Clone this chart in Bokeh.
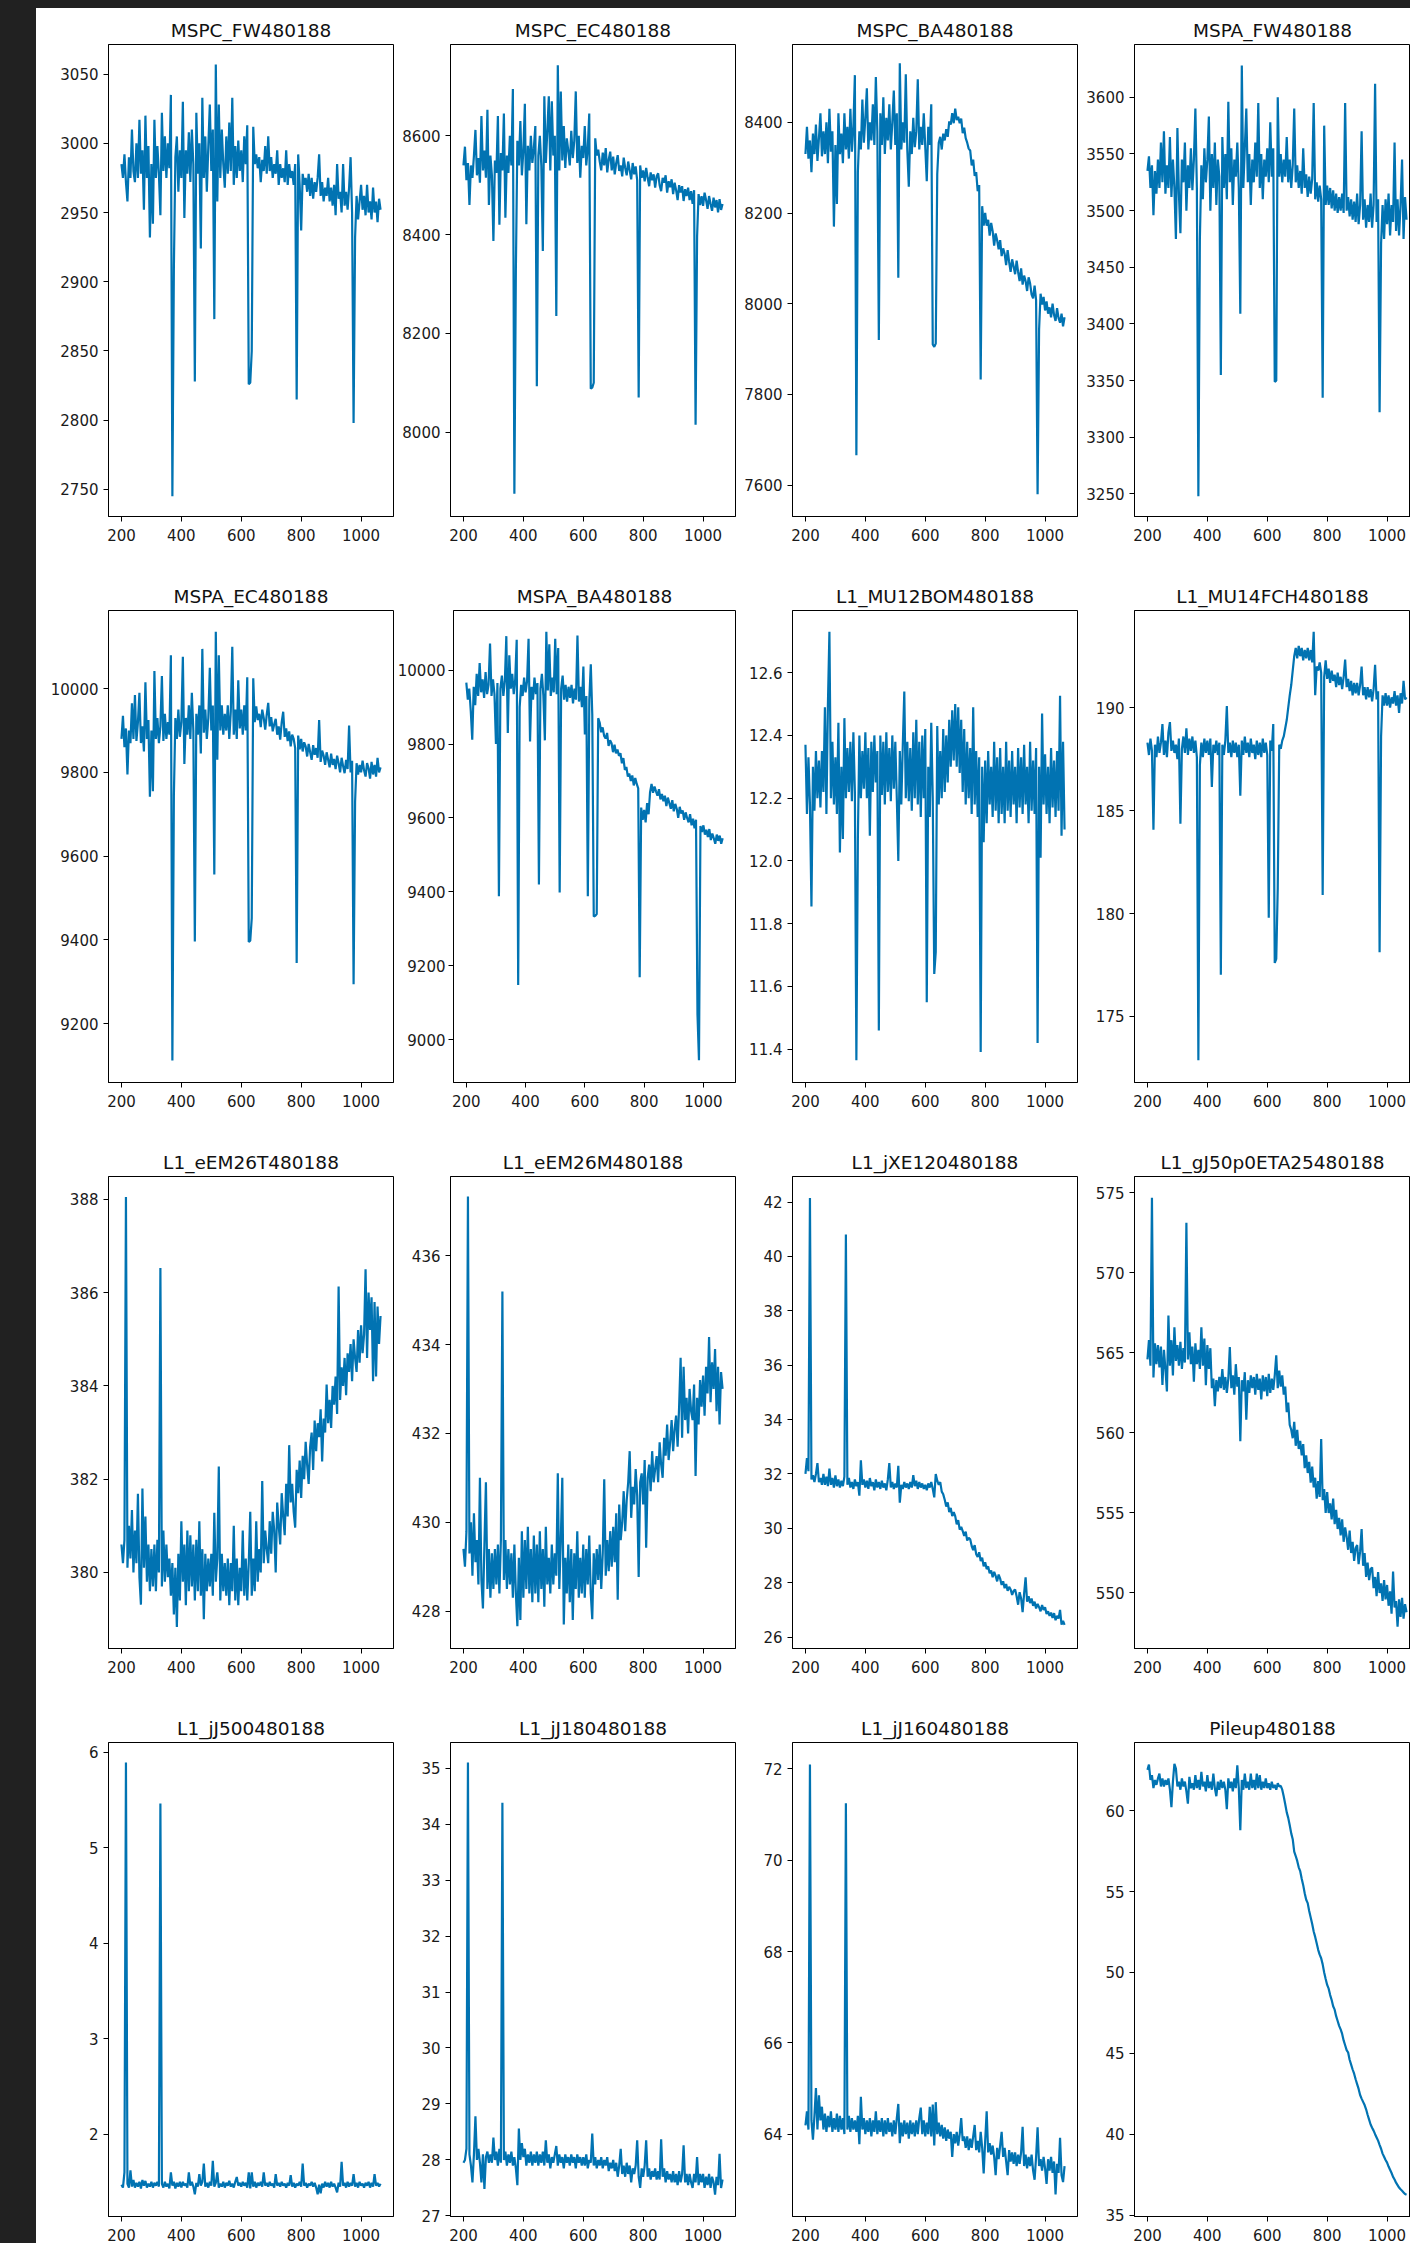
import sys
from bokeh.plotting import figure
from bokeh.layouts import row, column
from bokeh.models import Range1d, FixedTicker, Div, PrintfTickFormatter
from bokeh.embed import file_html
from bokeh.resources import INLINE

# sample positions (x axis, shared by all panels)
X = list(range(200, 1066, 5))

mspc_fw = [
 2985, 2975, 2992, 2972, 2958, 2990, 2975, 3010, 2980, 2972,
 3000, 2975, 3017, 2978, 2995, 2952, 3020, 2975, 2998, 2932,
 2985, 2942, 3017, 2975, 2998, 2978, 2948, 3022, 2980, 3005,
 2975, 3000, 2982, 3035, 2745, 2910, 2990, 3005, 2965, 2995,
 2975, 3030, 2946, 2995, 2978, 3008, 2972, 3010, 2985, 2828,
 3022, 2978, 3000, 2924, 3033, 2975, 3005, 2965, 2998, 3028,
 2980, 3010, 2873, 3057, 2958, 3028, 2975, 3010, 2985, 2968,
 3005, 2978, 3015, 2980, 3033, 2970, 2998, 2975, 3002, 2980,
 2995, 2972, 3005, 2985, 3013, 2826, 2827, 2850, 3012, 2985,
 2992, 2982, 2990, 2972, 2988, 2980, 2998, 2978, 3005, 2980,
 2990, 2975, 2985, 2978, 2995, 2970, 2985, 2975, 2982, 2972,
 2995, 2970, 2985, 2975, 2980, 2970, 2985, 2815, 2992, 2970,
 2937, 2978, 2970, 2975, 2965, 2978, 2962, 2975, 2960, 2972,
 2965, 2975, 2992, 2962, 2972, 2958, 2968, 2962, 2975, 2958,
 2968, 2955, 2970, 2948, 2985, 2960, 2965, 2950, 2985, 2955,
 2965, 2952, 2968, 2990, 2950, 2798, 2932, 2962, 2945, 2958,
 2970, 2952, 2962, 2948, 2970, 2950, 2958, 2945, 2968, 2950,
 2958, 2943, 2960, 2952]

mspc_ec = [
 8540, 8578, 8510, 8545, 8460, 8540, 8515, 8560, 8612, 8520,
 8555, 8505, 8640, 8530, 8570, 8515, 8653, 8460, 8560, 8520,
 8387, 8550, 8525, 8640, 8420, 8565, 8530, 8645, 8434, 8560,
 8525, 8600, 8540, 8695, 7875, 8330, 8590, 8540, 8630, 8520,
 8570, 8665, 8421, 8580, 8530, 8600, 8545, 8575, 8620, 8093,
 8560, 8600, 8540, 8367, 8680, 8545, 8610, 8680, 8530, 8670,
 8560, 8600, 8235, 8743, 8530, 8690, 8550, 8620, 8535, 8595,
 8570, 8540, 8610, 8555, 8590, 8690, 8545, 8600, 8515, 8580,
 8555, 8620, 8540, 8575, 8645, 8088, 8090, 8100, 8595, 8560,
 8572, 8548, 8530, 8566, 8540, 8575, 8526, 8552, 8568, 8530,
 8558, 8522, 8545, 8561, 8529, 8540, 8518, 8556, 8535, 8520,
 8548, 8530, 8512, 8545, 8522, 8538, 8510, 8070, 8540, 8515,
 8530, 8508, 8535, 8515, 8498, 8526, 8510, 8522, 8495, 8518,
 8524, 8500, 8488, 8515, 8505, 8520, 8485, 8508, 8496, 8512,
 8482, 8505, 8490, 8470, 8500, 8485, 8498, 8468, 8492, 8478,
 8495, 8470, 8488, 8462, 8490, 8015, 8396, 8482, 8460, 8478,
 8458, 8485, 8470, 8452, 8478, 8462, 8448, 8475, 8455, 8470,
 8445, 8472, 8450, 8462]

mspc_ba = [
 8330, 8390, 8320, 8360, 8290, 8375, 8330, 8395, 8315, 8365,
 8420, 8325, 8380, 8330, 8400, 8310, 8430, 8335, 8380, 8170,
 8350, 8220, 8420, 8330, 8375, 8310, 8420, 8340, 8390, 8320,
 8430, 8335, 8390, 8504, 7666, 8290, 8380, 8340, 8450, 8355,
 8410, 8475, 8340, 8400, 8360, 8440, 8350, 8500, 8380, 7920,
 8420, 8350, 8455, 8330, 8410, 8360, 8440, 8340, 8400, 8470,
 8350, 8420, 8057, 8530, 8340, 8400, 8355, 8506, 8340, 8258,
 8380, 8330, 8410, 8345, 8380, 8495, 8340, 8390, 8350, 8420,
 8345, 8270, 8390, 8350, 8440, 7910, 7905, 7912, 8286, 8355,
 8368, 8340, 8375, 8360, 8385, 8368, 8402, 8395, 8420, 8398,
 8430, 8405, 8412, 8398, 8408, 8376, 8388, 8365, 8355, 8342,
 8338, 8305, 8318, 8282, 8290, 8248, 8262, 7833, 8215, 8172,
 8200, 8172, 8185, 8150, 8178, 8160, 8128, 8155, 8140, 8120,
 8140, 8105, 8122, 8110, 8085, 8118, 8092, 8070, 8098, 8082,
 8065, 8095, 8070, 8050, 8078, 8042, 8062, 8050, 8028, 8058,
 8045, 8020, 8012, 8040, 8008, 7580, 7943, 8022, 7998, 8015,
 7985, 8005, 7978, 7992, 7970, 8000, 7975, 7962, 7990, 7968,
 7958, 7978, 7950, 7970]

mspa_fw = [
 3535, 3548, 3520, 3540, 3496, 3535, 3515, 3545, 3520, 3560,
 3525, 3570, 3515, 3540, 3520, 3565, 3512, 3545, 3520, 3475,
 3573, 3515, 3480, 3545, 3525, 3560, 3500, 3540, 3520, 3555,
 3518, 3545, 3590, 3520, 3248, 3475, 3540, 3510, 3555, 3525,
 3545, 3583, 3500, 3550, 3520, 3560, 3505, 3545, 3530, 3355,
 3565, 3520, 3550, 3510, 3596, 3525, 3555, 3505, 3545, 3530,
 3560, 3520, 3409, 3628, 3520, 3555, 3590, 3525, 3550, 3505,
 3545, 3525, 3560, 3530, 3595, 3520, 3550, 3510, 3545, 3530,
 3555, 3525, 3578, 3530, 3555, 3349, 3350, 3600, 3530, 3550,
 3525, 3545, 3530, 3565, 3525, 3545, 3520, 3540, 3590, 3525,
 3540, 3520, 3535, 3515, 3555, 3520, 3532, 3512, 3530, 3515,
 3528, 3595, 3510, 3525, 3508, 3522, 3510, 3335, 3575, 3505,
 3522, 3505, 3520, 3502, 3518, 3500, 3515, 3498, 3512, 3500,
 3515, 3498, 3595, 3500, 3512, 3495, 3510, 3492, 3508, 3490,
 3515, 3488, 3505, 3570, 3492, 3510, 3485, 3505, 3490, 3515,
 3485, 3505, 3612, 3490, 3510, 3322, 3471, 3505, 3475, 3510,
 3488, 3515, 3478, 3505, 3490, 3560, 3482, 3510, 3478, 3505,
 3545, 3475, 3512, 3492]

mspa_ec = [
 9880, 9935, 9860, 9905, 9795, 9900, 9870, 9965, 9880, 9985,
 9875, 9920, 9990, 9870, 9910, 9850, 10015, 9880, 9925, 9742,
 9900, 9755, 10042, 9880, 9930, 9870, 9910, 10030, 9875, 9940,
 9880, 9920, 9890, 10080, 9112, 9745, 9930, 9880, 9950, 9885,
 9920, 10076, 9820, 9930, 9890, 9960, 9880, 9990, 9900, 9396,
 9940, 9890, 9960, 9845, 10095, 9895, 9950, 9880, 9930, 10050,
 9900, 9960, 9556, 10136, 9830, 10080, 9900, 9960, 9890, 9940,
 9900, 9960, 9880, 9945, 10100, 9890, 9950, 9880, 10020, 9905,
 9950, 9890, 9960, 9900, 10027, 9395, 9398, 9452, 10025, 9920,
 9958, 9925, 9940, 9908, 9950, 9930, 9902, 9938, 9966, 9910,
 9932, 9898, 9915, 9928, 9890, 9910, 9878, 9920, 9945, 9885,
 9905, 9875, 9898, 9862, 9890, 9880, 9858, 9345, 9888, 9855,
 9880, 9850, 9872, 9862, 9838, 9868, 9848, 9830, 9865, 9842,
 9858, 9835, 9925, 9825, 9852, 9840, 9818, 9848, 9830, 9812,
 9845, 9818, 9832, 9808, 9840, 9822, 9800, 9835, 9815, 9798,
 9830, 9808, 9912, 9800, 9828, 9294, 9730, 9822, 9795, 9818,
 9800, 9828, 9805, 9790, 9822, 9810, 9785, 9825, 9795, 9818,
 9790, 9835, 9800, 9812]

mspa_ba = [
 9966, 9920, 9950, 9890, 9812, 9955, 9905, 9990, 9930, 10019,
 9940, 9975, 9925, 9995, 9935, 9960, 10072, 9930, 9975, 9935,
 9800, 9965, 9388, 9950, 9985, 9930, 9970, 10092, 9830, 10040,
 9950, 9990, 9935, 9975, 10082, 9148, 9900, 9960, 9930, 9980,
 9940, 9970, 10085, 9807, 9955, 9920, 9980, 9935, 9965, 9420,
 9950, 9990, 9930, 9810, 10104, 9945, 10070, 9930, 9980, 9940,
 10085, 9935, 10060, 9398, 9950, 9985, 9920, 9960, 9915, 9955,
 9925, 9960, 9910, 9950, 9920, 10094, 9915, 9955, 9900, 10010,
 9826, 9930, 9388, 9920, 10016, 9880, 9333, 9335, 9340, 9870,
 9858, 9832, 9845, 9822, 9815, 9830, 9795, 9810, 9802, 9778,
 9798, 9775, 9785, 9768, 9775, 9748, 9762, 9730, 9738, 9712,
 9720, 9700, 9715, 9688, 9708, 9692, 9680, 9169, 9628, 9595,
 9622, 9588, 9640, 9610, 9670, 9692, 9668, 9685, 9672, 9660,
 9678, 9650, 9665, 9645, 9660, 9632, 9655, 9640, 9625, 9648,
 9618, 9638, 9625, 9600, 9630, 9612, 9620, 9595, 9615, 9600,
 9588, 9610, 9580, 9598, 9572, 9595, 9068, 8944, 9578, 9562,
 9580, 9555, 9568, 9548, 9570, 9540, 9558, 9545, 9530, 9555,
 9538, 9552, 9530, 9545]

l1_mu12bom = [
 12.37, 12.15, 12.33, 12.18, 11.855, 12.30, 12.16, 12.35, 12.20, 12.32,
 12.17, 12.35, 12.22, 12.49, 12.15, 12.50, 12.73, 12.20, 12.38, 12.18,
 12.33, 12.15, 12.44, 12.027, 12.30, 12.07, 12.455, 12.20, 12.36, 12.22,
 12.38, 12.19, 12.41, 12.22, 11.365, 12.07, 12.40, 12.20, 12.35, 12.23,
 12.41, 12.20, 12.36, 12.08, 12.38, 12.22, 12.40, 12.25, 12.35, 11.46,
 12.40, 12.21, 12.38, 12.18, 12.41, 12.22, 12.36, 12.19, 12.40, 12.23,
 12.38, 12.20, 12.00, 12.35, 12.18, 12.37, 12.54, 12.20, 12.38, 12.19,
 12.36, 12.16, 12.41, 12.20, 12.45, 12.18, 12.38, 12.14, 12.40, 12.20,
 12.42, 11.55, 12.30, 12.14, 12.44, 12.20, 11.64, 11.71, 12.43, 12.18,
 12.35, 12.20, 12.42, 12.22, 12.40, 12.25, 12.45, 12.30, 12.48, 12.32,
 12.50, 12.30, 12.49, 12.28, 12.45, 12.22, 12.42, 12.18, 12.38, 12.20,
 12.36, 12.15, 12.49, 12.18, 12.35, 12.14, 12.33, 11.391, 12.30, 12.06,
 12.32, 12.12, 12.35, 12.18, 12.30, 12.14, 12.38, 12.16, 12.33, 12.12,
 12.36, 12.15, 12.30, 12.12, 12.38, 12.16, 12.32, 12.14, 12.35, 12.18,
 12.30, 12.12, 12.36, 12.17, 12.33, 12.15, 12.37, 12.18, 12.30, 12.12,
 12.38, 12.16, 12.32, 12.15, 12.36, 11.42, 12.30, 12.01, 12.47, 12.18,
 12.34, 12.15, 12.30, 12.12, 12.36, 12.17, 12.32, 12.14, 12.35, 12.16,
 12.526, 12.08, 12.38, 12.10]

l1_mu14fch = [
 188.3, 187.7, 188.5, 187.9, 184.07, 188.2, 187.6, 188.6, 187.8, 188.3,
 189.2, 187.7, 188.4, 187.6, 188.8, 189.3, 187.9, 188.4, 187.8, 188.2,
 187.5, 188.5, 184.36, 188.0, 188.6, 187.8, 189.0, 187.7, 188.5, 187.9,
 188.6, 187.8, 188.4, 187.6, 172.87, 187.2, 188.3, 187.6, 188.5, 187.8,
 188.4, 187.7, 188.5, 186.15, 188.2, 187.8, 188.4, 187.7, 188.3, 177.03,
 188.2, 187.7, 188.4, 190.08, 187.8, 188.3, 187.6, 188.4, 187.8, 188.3,
 187.6, 188.2, 185.72, 188.4, 187.7, 188.6, 187.8, 188.3, 187.6, 188.5,
 187.8, 188.2, 187.5, 188.4, 187.7, 188.3, 187.6, 188.5, 187.8, 188.3,
 187.7, 179.8, 188.4, 187.9, 189.2, 177.6, 177.8, 181.24, 188.2, 188.0,
 188.4, 188.6, 189.0, 189.4, 190.0, 190.6, 191.1, 191.8, 192.5, 192.9,
 192.4, 193.0, 192.5, 192.9, 192.3, 192.8, 192.4, 192.9, 192.3, 192.8,
 192.2, 193.69, 190.6, 192.0, 191.8, 192.2, 191.7, 180.9, 191.5, 192.3,
 191.4, 191.9, 191.2, 191.8, 191.3, 191.6, 191.0, 191.7, 191.1, 191.5,
 190.9, 191.5, 192.34, 191.0, 191.4, 190.8, 191.3, 190.6, 191.2, 190.7,
 191.2, 190.6, 191.1, 192.0, 190.6, 191.0, 190.4, 191.0, 190.5, 190.9,
 190.3, 190.9, 192.08, 190.4, 190.8, 178.12, 188.6, 190.6, 190.1, 190.7,
 190.1, 190.6, 190.0, 190.5, 190.2, 190.8, 190.1, 190.6, 189.74, 190.7,
 190.2, 191.3, 190.4, 190.5]

l1_eem26t = [
 380.6, 380.2, 380.7, 388.05, 380.1, 381.0, 380.3, 381.34, 380.0, 380.9,
 380.2, 381.69, 379.9, 379.31, 381.8, 380.1, 381.2, 379.8, 380.6, 379.6,
 380.5, 379.7, 380.6, 379.6, 380.7, 380.0, 386.53, 379.7, 380.9, 379.8,
 380.6, 379.9, 380.3, 379.5, 380.2, 379.1, 380.1, 378.83, 380.4, 379.4,
 381.1, 379.8, 380.6, 379.3, 380.9, 379.6, 380.8, 379.7, 380.6, 379.4,
 380.7, 379.6, 381.1, 379.5, 380.5, 379.0, 380.4, 379.6, 380.3, 379.7,
 380.4, 379.5, 381.28, 379.8, 380.3, 382.27, 379.4, 380.4, 379.6, 380.2,
 379.5, 380.3, 379.3, 380.2, 379.6, 381.0, 379.4, 380.3, 379.3, 380.1,
 379.6, 380.9, 379.5, 380.3, 379.4, 380.2, 381.3, 379.5, 380.3, 379.6,
 381.1, 379.8, 380.5, 380.0, 381.96, 380.2, 380.9, 380.5, 380.2, 381.1,
 380.4, 381.3, 380.9, 380.0, 381.5, 381.0, 380.6, 381.7, 381.2, 380.8,
 381.9, 381.2, 382.73, 381.5, 381.9, 381.3, 380.96, 382.2, 381.7, 382.4,
 381.6, 382.5, 382.0, 382.8, 382.3, 381.9, 382.7, 383.0, 382.2, 383.26,
 382.6, 383.2, 382.9, 383.5, 382.38, 383.3, 383.0, 384.03, 383.2, 383.7,
 383.1, 384.0, 383.6, 384.2, 383.4, 386.13, 383.7, 384.4, 384.0, 384.6,
 383.8, 384.7, 384.3, 384.9, 384.1, 385.0, 384.6, 384.3, 385.2, 384.5,
 385.3, 384.7, 385.1, 386.5, 384.6, 386.0, 385.2, 385.9, 384.1, 385.8,
 384.2, 385.7, 384.9, 385.5]

l1_eem26m = [
 429.4, 429.0, 429.8, 437.33, 429.3, 430.0, 428.8, 430.2, 429.1, 429.6,
 428.6, 431.0, 428.7, 428.06, 429.5, 430.9, 428.5, 429.4, 428.3, 429.3,
 428.5, 429.4, 428.6, 429.5, 428.4, 429.6, 435.19, 428.7, 429.6, 428.5,
 429.4, 428.6, 429.3, 428.3, 429.5, 428.4, 427.66, 429.2, 427.8, 429.8,
 428.3, 429.6, 428.5, 429.9, 428.4, 429.4, 428.2, 429.7, 428.4, 429.5,
 428.2, 429.8, 428.5, 429.4, 428.1, 429.9, 428.6, 429.2, 428.4, 429.5,
 428.6, 429.3, 428.8, 431.1, 428.5, 429.6, 431.0, 427.7, 429.2, 428.4,
 429.5, 428.2, 429.4, 427.8, 429.3, 428.5, 429.8, 428.3, 429.2, 428.4,
 429.5, 428.3, 429.4, 428.6, 429.7, 428.4, 427.82, 429.3, 428.6, 429.4,
 428.7, 429.5, 428.5, 429.3, 430.97, 428.8, 429.6, 428.9, 429.8, 429.0,
 429.9, 429.1, 430.2, 428.26, 430.4, 429.6, 430.0, 430.7, 429.8, 430.5,
 430.9, 431.6, 430.1, 430.8, 430.4, 431.2, 430.6, 428.77, 430.9, 431.1,
 430.4, 431.4, 429.43, 431.0, 431.3, 430.7, 431.6, 430.9, 431.2, 431.49,
 430.9, 431.8, 431.3, 431.0, 431.9, 431.5, 432.2, 431.4, 431.8, 432.3,
 431.6, 432.1, 432.4, 431.7, 432.6, 433.7, 431.9, 433.5, 432.3, 432.8,
 432.0, 433.0, 432.5, 432.3, 433.1, 431.04, 432.8, 432.2, 433.2, 432.6,
 433.3, 432.4, 433.5, 432.9, 434.17, 432.7, 433.6, 433.0, 433.9, 432.5,
 433.5, 432.2, 433.38, 433.0]

l1_jxe120 = [
 32.0, 32.58, 32.1, 42.15, 31.8, 31.95, 31.7, 32.0, 32.4, 31.7,
 31.85, 31.6, 32.0, 31.6, 31.9, 31.55, 32.2, 31.6, 31.85, 31.5,
 31.95, 31.55, 31.8, 31.5, 31.75, 31.55, 31.9, 40.81, 31.6, 31.85,
 31.5, 31.7, 31.45, 31.8, 31.55, 31.7, 31.2, 32.5, 31.6, 31.8,
 31.5, 31.75, 31.45, 31.85, 31.55, 31.7, 31.4, 31.8, 31.5, 31.7,
 31.45, 31.75, 31.5, 31.65, 31.4, 31.8, 32.4, 31.5, 31.7, 31.45,
 31.65, 31.5, 32.3, 30.94, 31.6, 31.45, 31.7, 31.5, 31.65, 31.45,
 31.7, 31.5, 31.96, 31.55, 31.75, 31.45, 31.7, 31.5, 31.65, 31.45,
 31.6, 31.4, 31.65, 31.5, 31.7, 31.45, 31.14, 32.0, 31.75, 31.6,
 31.7, 31.35, 31.25, 31.05, 30.8, 30.95, 30.6, 30.75, 30.45, 30.6,
 30.45, 30.15, 30.3, 29.95, 30.05, 29.9, 29.72, 29.88, 29.55, 29.65,
 29.6, 29.35, 29.2, 29.38, 29.05, 28.95, 29.12, 28.8, 28.92, 28.6,
 28.75, 28.5, 28.6, 28.35, 28.45, 28.2, 28.4, 28.25, 28.05, 28.3,
 28.15, 27.92, 28.05, 27.8, 27.95, 27.7, 27.85, 27.75, 27.55, 27.7,
 27.75, 27.5, 27.19, 27.65, 27.42, 26.92, 27.6, 28.2, 27.3, 27.5,
 27.25, 27.42, 27.15, 27.3, 27.05, 27.22, 27.1, 26.95, 27.18, 27.0,
 27.1, 26.85, 26.95, 26.78, 26.9, 26.7, 26.88, 26.62, 26.78, 26.68,
 27.0, 26.46, 26.6, 26.45]

l1_gj50p0eta25 = [
 564.6, 565.8, 564.2, 574.7, 563.47, 565.6, 564.3, 565.5, 564.1, 565.4,
 563.0, 565.2, 564.0, 562.6, 567.34, 564.2, 565.8, 563.6, 566.6, 564.5,
 565.5, 564.2, 565.7, 564.0, 565.3, 564.4, 573.14, 564.6, 566.3, 564.3,
 565.4, 563.2, 565.6, 564.3, 565.2, 564.0, 566.6, 564.2, 565.9, 562.98,
 565.5, 564.0, 565.3, 562.8, 563.4, 561.68, 563.3, 562.6, 563.5, 562.8,
 564.0, 562.7, 563.5, 562.5, 563.4, 565.37, 562.8, 563.6, 562.4, 564.3,
 562.9, 563.5, 559.48, 563.3, 562.6, 563.8, 560.83, 563.3, 562.5, 563.6,
 562.8, 563.5, 562.4, 563.7, 562.7, 563.4, 562.1, 563.6, 562.6, 563.5,
 562.3, 563.7, 562.5, 563.4, 562.7, 563.6, 564.86, 562.8, 563.9, 562.9,
 563.6, 562.4, 562.9, 561.3, 561.9, 560.5, 560.2, 559.67, 560.7, 559.2,
 560.2, 559.0, 559.5, 558.6, 559.3, 557.8, 558.6, 557.5, 558.2, 556.9,
 557.9, 556.6, 557.2, 555.9, 557.0, 556.0, 559.62, 555.8, 556.5, 555.0,
 556.3, 555.0, 555.6, 554.6, 555.9, 554.3, 555.2, 554.0, 554.7, 553.6,
 554.6, 553.2, 554.1, 553.5, 552.7, 553.9, 552.5, 553.2, 552.0, 552.8,
 553.0, 551.8, 552.6, 554.0, 551.7, 552.5, 551.0, 551.9, 550.8, 551.5,
 551.6, 550.3, 551.0, 549.8, 551.3, 550.0, 550.6, 549.5, 550.8, 549.6,
 550.5, 549.2, 550.1, 548.7, 551.34, 549.1, 549.5, 547.9, 549.6, 548.5,
 549.7, 548.4, 549.3, 548.8]

l1_jj500 = [
 1.47, 1.44, 1.6, 5.89, 1.48, 1.44, 1.62, 1.45, 1.52, 1.44,
 1.49, 1.45, 1.5, 1.43, 1.52, 1.46, 1.51, 1.44, 1.48, 1.45,
 1.5, 1.44, 1.49, 1.46, 1.5, 1.45, 5.46, 1.48, 1.44, 1.5,
 1.45, 1.48, 1.43, 1.6, 1.46, 1.5, 1.43, 1.49, 1.45, 1.5,
 1.44, 1.5, 1.46, 1.48, 1.44, 1.6, 1.46, 1.5, 1.45, 1.37,
 1.49, 1.45, 1.58, 1.46, 1.5, 1.69, 1.45, 1.49, 1.44, 1.5,
 1.46, 1.72, 1.45, 1.49, 1.6, 1.44, 1.48, 1.45, 1.5, 1.44,
 1.49, 1.46, 1.51, 1.45, 1.48, 1.44, 1.5, 1.55, 1.46, 1.49,
 1.45, 1.5, 1.46, 1.49, 1.44, 1.6, 1.43, 1.6, 1.45, 1.5,
 1.44, 1.49, 1.46, 1.5, 1.45, 1.6, 1.46, 1.49, 1.45, 1.5,
 1.46, 1.48, 1.44, 1.58, 1.46, 1.49, 1.45, 1.5, 1.46, 1.48,
 1.44, 1.49, 1.46, 1.57, 1.45, 1.49, 1.44, 1.48, 1.46, 1.5,
 1.45, 1.69, 1.46, 1.49, 1.44, 1.48, 1.46, 1.5, 1.45, 1.49,
 1.44, 1.37, 1.47, 1.38, 1.48, 1.44, 1.5, 1.45, 1.49, 1.44,
 1.5, 1.45, 1.48, 1.44, 1.39, 1.49, 1.45, 1.71, 1.46, 1.49,
 1.44, 1.5, 1.45, 1.49, 1.46, 1.58, 1.45, 1.49, 1.44, 1.5,
 1.46, 1.48, 1.44, 1.49, 1.46, 1.5, 1.44, 1.49, 1.45, 1.58,
 1.46, 1.49, 1.45, 1.48]

l1_jj180 = [
 27.95, 28.0, 28.2, 35.1, 28.1, 27.9, 27.6, 28.1, 28.78, 28.0,
 28.2, 27.95, 27.6, 28.1, 27.48, 28.05, 28.15, 27.95, 28.1, 27.95,
 28.4, 28.0, 28.15, 27.9, 28.2, 27.95, 34.38, 28.0, 28.15, 27.9,
 28.1, 27.95, 28.15, 27.9, 28.05, 27.85, 27.55, 28.56, 28.0, 28.3,
 28.05, 28.2, 27.9, 28.1, 27.95, 28.15, 27.9, 28.1, 27.95, 28.15,
 27.9, 28.1, 27.95, 28.15, 27.9, 28.35, 27.95, 28.1, 27.85, 28.05,
 27.95, 28.1, 28.25, 27.9, 28.1, 27.95, 28.05, 27.85, 28.1, 27.95,
 28.05, 27.9, 28.1, 27.95, 28.05, 27.85, 28.1, 27.95, 28.05, 27.9,
 28.05, 27.9, 28.1, 27.85, 28.0, 27.95, 28.47, 27.9, 28.05, 27.85,
 28.0, 27.9, 28.05, 27.85, 28.0, 27.9, 28.05, 27.8, 27.95, 27.85,
 28.0, 27.8, 27.95, 27.7, 27.9, 28.2, 27.75, 27.9, 27.7, 27.95,
 27.75, 27.9, 27.6, 27.85, 27.75, 27.9, 28.35, 27.7, 27.5, 27.85,
 27.7, 27.9, 28.35, 27.7, 27.85, 27.65, 27.8, 27.7, 27.85, 27.65,
 27.8, 27.65, 28.37, 27.7, 27.85, 27.6, 27.8, 27.65, 27.75, 27.6,
 27.8, 27.6, 27.75, 27.55, 27.8, 27.6, 27.75, 28.26, 27.6, 27.75,
 27.55, 27.75, 27.6, 27.5, 27.75, 27.6, 28.05, 27.55, 27.75, 27.6,
 27.75, 27.5, 27.7, 27.55, 27.75, 27.5, 27.7, 27.6, 27.38, 27.7,
 27.55, 28.11, 27.5, 27.65]

l1_jj160 = [
 64.19, 64.5, 64.1, 72.1, 64.3, 63.88, 64.4, 65.01, 64.1, 64.85,
 64.3, 64.6, 64.1, 64.45, 64.05, 64.4, 64.15, 64.5, 64.05, 64.35,
 64.1, 64.45, 64.05, 64.4, 64.1, 64.35, 64.0, 71.25, 64.1, 64.4,
 64.05, 64.35, 64.1, 64.3, 64.05, 64.4, 63.78, 64.82, 64.1, 64.35,
 64.0, 64.3, 64.05, 64.35, 63.95, 64.3, 64.05, 64.5, 64.0, 64.3,
 64.05, 64.35, 63.95, 64.3, 64.0, 64.35, 64.05, 64.25, 63.95, 64.3,
 64.0, 64.35, 64.66, 63.8, 64.25, 63.95, 64.3, 64.0, 64.25, 63.9,
 64.3, 64.0, 64.25, 63.95, 64.3, 64.0, 64.35, 64.58, 64.0, 64.3,
 63.95, 64.25, 64.0, 64.6, 63.95, 64.65, 63.75, 64.7, 64.0, 64.25,
 63.95, 64.2, 63.9, 64.15, 63.85, 64.1, 63.9, 64.05, 63.5, 64.0,
 63.8, 64.05, 63.75, 64.0, 64.35, 63.85, 63.95, 63.7, 63.95, 63.65,
 63.9, 63.7, 63.95, 64.2, 63.65, 63.85, 63.6, 64.05, 63.7, 63.14,
 63.85, 64.5, 63.6, 63.8, 63.55, 63.75, 63.5, 63.1, 63.7, 63.45,
 63.75, 64.05, 63.5, 63.7, 63.4, 63.1, 63.65, 63.4, 63.6, 63.35,
 63.6, 63.3, 63.55, 63.35, 63.6, 64.16, 63.3, 63.55, 63.25, 63.5,
 63.3, 63.55, 63.2, 63.0, 63.5, 64.15, 63.3, 63.45, 63.2, 63.5,
 63.25, 62.91, 63.45, 63.2, 63.5, 63.15, 63.4, 62.68, 63.35, 63.15,
 63.92, 63.1, 62.95, 63.3]

pileup = [
 62.53, 62.86, 61.9, 62.2, 61.4, 61.9, 61.6, 62.0, 62.3, 61.5,
 62.0, 61.5, 61.9, 61.6, 62.0, 61.3, 60.22, 61.8, 62.9, 62.6,
 61.5, 61.8, 61.3, 62.0, 61.5, 61.8, 61.2, 60.44, 62.1, 61.4,
 61.7, 61.3, 62.2, 61.4, 61.9, 61.3, 62.4, 61.5, 61.8, 61.2,
 62.2, 61.4, 61.8, 61.3, 62.3, 61.4, 60.9, 61.8, 61.3, 61.9,
 61.4, 61.8, 61.3, 60.1, 62.0, 61.4, 61.8, 61.2, 62.0, 61.4,
 62.81, 61.4, 58.79, 61.9, 61.3, 62.3, 61.4, 61.8, 61.3, 62.3,
 61.4, 61.9, 61.3, 62.3, 61.4, 62.2, 61.3, 61.8, 61.4, 62.0,
 61.4, 61.7, 61.3, 61.8, 61.4, 61.6, 61.3, 61.7, 61.5, 61.54,
 61.3, 60.88, 60.4, 59.9, 59.56, 59.1, 58.6, 58.24, 57.47, 57.2,
 56.9, 56.5, 56.26, 55.8, 55.4, 54.9, 54.5, 54.29, 53.8, 53.4,
 53.0, 52.53, 52.2, 51.8, 51.4, 51.1, 50.88, 50.5, 50.0, 49.6,
 49.23, 49.0, 48.6, 48.3, 47.91, 47.7, 47.3, 47.0, 46.7, 46.48,
 46.2, 45.8, 45.5, 45.2, 45.05, 44.6, 44.3, 44.0, 43.74, 43.4,
 43.1, 42.8, 42.42, 42.2, 42.0, 41.8, 41.54, 41.2, 40.9, 40.6,
 40.4, 40.22, 40.0, 39.8, 39.6, 39.34, 39.1, 38.8, 38.6, 38.4,
 38.24, 38.0, 37.8, 37.6, 37.36, 37.2, 37.0, 36.85, 36.7, 36.59,
 36.5, 36.4, 36.3, 36.26]

titles = ["MSPC_FW480188", "MSPC_EC480188", "MSPC_BA480188", "MSPA_FW480188",
          "MSPA_EC480188", "MSPA_BA480188", "L1_MU12BOM480188", "L1_MU14FCH480188",
          "L1_eEM26T480188", "L1_eEM26M480188", "L1_jXE120480188", "L1_gJ50p0ETA25480188",
          "L1_jJ500480188", "L1_jJ180480188", "L1_jJ160480188", "Pileup480188"]
series = [mspc_fw, mspc_ec, mspc_ba, mspa_fw, mspa_ec, mspa_ba, l1_mu12bom, l1_mu14fch,
          l1_eem26t, l1_eem26m, l1_jxe120, l1_gj50p0eta25, l1_jj500, l1_jj180, l1_jj160, pileup]
y_limits = [(2730.4, 3071.4), (7829, 8785), (7530.7, 8571.6), (3230.1, 3646.6),
            (9059.3, 10186.7), (8884, 10161.4), (11.294, 12.798), (171.79, 194.72),
            (378.37, 388.49), (427.16, 437.78), (25.58, 42.94), (546.53, 576.03),
            (1.137, 6.10), (26.99, 35.457), (62.195, 72.58), (34.91, 64.22)]
y_ticks = [[2750, 2800, 2850, 2900, 2950, 3000, 3050], [8000, 8200, 8400, 8600],
           [7600, 7800, 8000, 8200, 8400], [3250, 3300, 3350, 3400, 3450, 3500, 3550, 3600],
           [9200, 9400, 9600, 9800, 10000], [9000, 9200, 9400, 9600, 9800, 10000],
           [11.4, 11.6, 11.8, 12.0, 12.2, 12.4, 12.6], [175, 180, 185, 190],
           [380, 382, 384, 386, 388], [428, 430, 432, 434, 436],
           [26, 28, 30, 32, 34, 36, 38, 40, 42], [550, 555, 560, 565, 570, 575],
           [2, 3, 4, 5, 6], [27, 28, 29, 30, 31, 32, 33, 34, 35],
           [64, 66, 68, 70, 72], [35, 40, 45, 50, 55, 60]]
x_ticks = [200, 400, 600, 800, 1000]

LINE = "#0173b2"
TXT = "#1a1a1a"
FONT = "DejaVu Sans"
widths = [358, 342, 342, 332]
lefts = [72, 56, 56, 56]
rights = [1, 1, 1, 0]
x_ends = [1108.25, 1108.25, 1108.25, 1078.2]

figs = []
for i, (t, ys) in enumerate(zip(titles, series)):
    if len(ys) != len(X):
        print("length mismatch", t, len(ys), file=sys.stderr)
    xs = X[:len(ys)]
    c, r = i % 4, i // 4
    T = 36
    H = 475 if r == 3 else 472
    B = 26 if r == 3 else 58
    p = figure(width=widths[c], height=T + H + B, title=t,
               x_range=Range1d(156.75, x_ends[c]), y_range=Range1d(*y_limits[i]),
               output_backend="svg", toolbar_location=None,
               min_border_left=lefts[c], min_border_right=rights[c],
               min_border_top=T, min_border_bottom=B)
    p.line(xs, ys, line_color=LINE, line_width=2.2)
    p.title.text_font = FONT
    p.title.text_font_size = "18.5px"
    p.title.text_font_style = "normal"
    p.title.text_color = "#111111"
    p.title.align = "center"
    p.title.standoff = 7
    p.xgrid.visible = False
    p.ygrid.visible = False
    p.outline_line_color = "black"
    p.outline_line_width = 1
    p.background_fill_color = "white"
    p.border_fill_color = "white"
    for ax in (p.xaxis[0], p.yaxis[0]):
        ax.axis_line_color = "black"
        ax.major_tick_line_color = "black"
        ax.major_tick_in = 0
        ax.major_tick_out = 5
        ax.minor_tick_line_color = None
        ax.major_label_text_font = FONT
        ax.major_label_text_font_size = "15px"
        ax.major_label_text_color = TXT
    p.xaxis[0].ticker = FixedTicker(ticks=x_ticks)
    p.xaxis[0].major_label_standoff = 7
    p.yaxis[0].ticker = FixedTicker(ticks=y_ticks[i])
    p.yaxis[0].major_label_standoff = 3 if (c > 0 and max(y_ticks[i]) >= 10000) else 5
    if i == 6:
        p.yaxis[0].formatter = PrintfTickFormatter(format="%.1f")
    figs.append(p)

DARK = "#212121"
left_strip = Div(text="", width=36, height=2243, margin=(0, 0, 0, 0),
                 styles={"background-color": DARK})
top_strip = Div(text="", width=1374, height=8, margin=(0, 0, 0, 0),
                styles={"background-color": DARK})
grid = column(top_strip, row(*figs[0:4]), row(*figs[4:8]), row(*figs[8:12]), row(*figs[12:16]))
layout = row(left_strip, grid)

open("out.html", "w").write(file_html(layout, INLINE, title="plot"))
